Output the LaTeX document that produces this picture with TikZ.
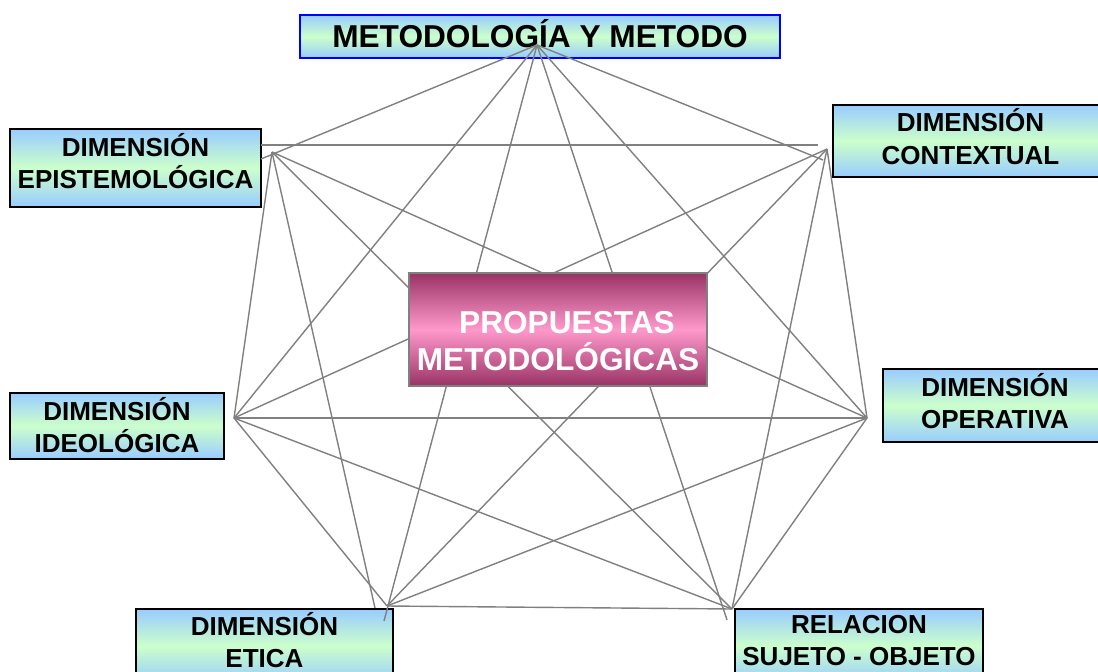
\documentclass[tikz,border=0pt]{standalone}
\usepackage{fontspec}
\setmainfont{Liberation Sans}

\definecolor{boxblue}{RGB}{153,204,255}
\definecolor{boxgreen}{RGB}{204,255,204}
\definecolor{magdark}{RGB}{153,51,102}
\definecolor{magpink}{RGB}{255,153,204}
\definecolor{linegray}{RGB}{128,128,128}

% extra depth under the last line, lifts the text inside its box
\newcommand{\liftby}[1]{\rule[-#1]{0pt}{0pt}}

\tikzset{
  dimbox/.style={draw=black, line width=1.2pt, top color=boxblue, bottom color=boxblue,
    middle color=boxgreen, inner sep=0pt, align=center,
    font=\fontsize{18.5}{22.8}\selectfont\bfseries},
  link/.style={linegray, line width=1pt}
}

\begin{document}
\begin{tikzpicture}[x=0.025cm, y=-0.025cm]
\useasboundingbox (0, 0) rectangle (1098, 671);

% outer boxes
\node [dimbox, draw=blue, minimum width=12cm, minimum height=1.075cm,
  font=\fontsize{22.5}{27}\selectfont\bfseries] (metodo) at (540, 36.5) {METODOLOGÍA Y METODO\liftby{4.3pt}};
\node [dimbox, minimum width=6.275cm, minimum height=1.95cm] (epist) at (135.5, 168) {DIMENSIÓN\\EPISTEMOLÓGICA\liftby{10pt}};
\node [dimbox, minimum width=6.875cm, minimum height=1.8cm] (context) at (970.5, 141) {DIMENSIÓN\\CONTEXTUAL\liftby{6.4pt}};
\node [dimbox, minimum width=5.6cm, minimum height=1.825cm] (operat) at (995, 405.5) {DIMENSIÓN\\OPERATIVA\liftby{7.1pt}};
\node [dimbox, minimum width=5.35cm, minimum height=1.65cm] (ideol) at (117, 426) {DIMENSIÓN\\IDEOLÓGICA\liftby{2.1pt}};
\node [dimbox, minimum width=6.425cm, minimum height=1.85cm] (etica) at (264.5, 646) {DIMENSIÓN\\ETICA\liftby{8.5pt}};
\node [dimbox, minimum width=6.2cm, minimum height=1.85cm] (sujeto) at (859, 646) {RELACION\\SUJETO - OBJETO\liftby{8.5pt}};

% line ends
\coordinate (t) at (537, 45);
\coordinate (e) at (272, 152);
\coordinate (e1) at (261, 145);
\coordinate (e2) at (261, 159);
\coordinate (c) at (827, 149);
\coordinate (c1) at (818, 145);
\coordinate (c2) at (823, 160);
\coordinate (o) at (867, 418);
\coordinate (i) at (234, 418);
\coordinate (et) at (387, 606);
\coordinate (et1) at (375, 608);
\coordinate (et2) at (384, 621);
\coordinate (r) at (732, 609);
\coordinate (r1) at (727, 620);

\draw [link] (t) -- (e2);
\draw [link] (t) -- (c2);
\draw [link] (t) -- (o);
\draw [link] (t) -- (i);
\draw [link] (t) -- (et2);
\draw [link] (t) -- (r1);
\draw [link] (e1) -- (c1);
\draw [link] (e) -- (o);
\draw [link] (e) -- (i);
\draw [link] (e) -- (et1);
\draw [link] (e) -- (r);
\draw [link] (c) -- (o);
\draw [link] (c) -- (i);
\draw [link] (c) -- (et);
\draw [link] (c) -- (r);
\draw [link] (o) -- (i);
\draw [link] (o) -- (et);
\draw [link] (o) -- (r);
\draw [link] (i) -- (et);
\draw [link] (i) -- (r);
\draw [link] (et) -- (r);

% center box
\node [draw=linegray, line width=1.4pt, top color=magdark, bottom color=magdark, middle color=magpink,
  minimum width=7.45cm, minimum height=2.825cm, inner sep=0pt] (propbox) at (558, 329.5) {};
\node [white, align=center, font=\fontsize{22.5}{26.3}\selectfont\bfseries] (prop) at (558, 341)
  {\hspace*{12.8pt}PROPUESTAS\\METODOLÓGICAS};
\end{tikzpicture}
\end{document}
